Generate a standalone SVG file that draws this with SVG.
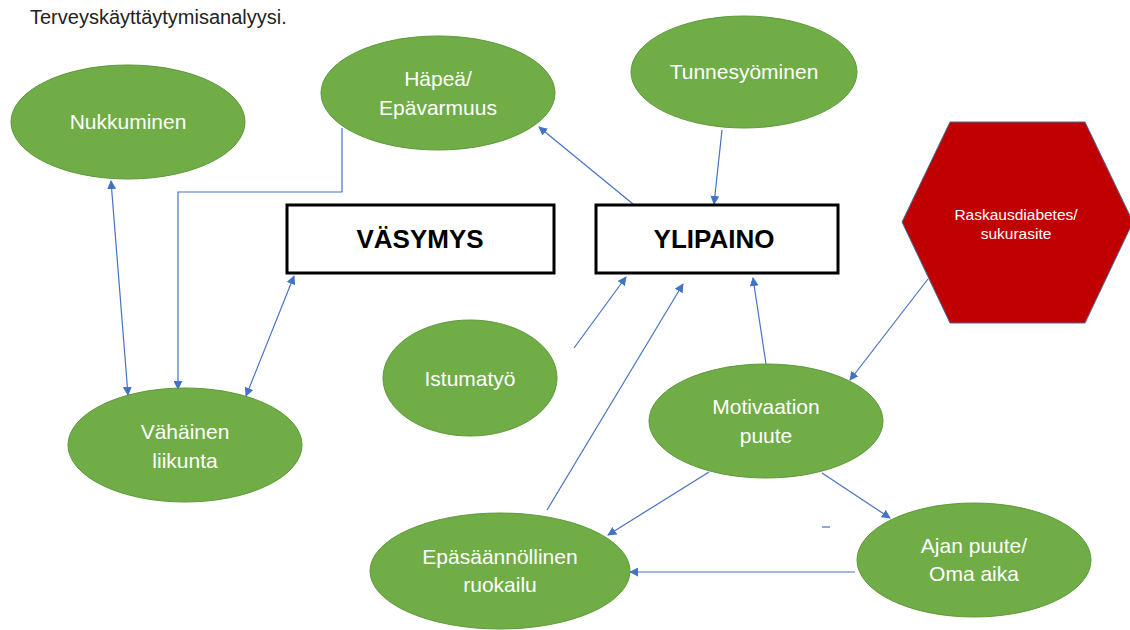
<svg xmlns="http://www.w3.org/2000/svg" width="1130" height="630" viewBox="0 0 1130 630">
<defs>
<marker id="ah" viewBox="0 0 10 10" refX="9" refY="5" markerWidth="9" markerHeight="9" markerUnits="userSpaceOnUse" orient="auto-start-reverse">
<path d="M0,0 L10,5 L0,10 z" fill="#4472C4"/>
</marker>
<style>
.el{fill:#70AD47;stroke:#5E9A3A;stroke-width:1}
.box{fill:#fff;stroke:#000;stroke-width:3}
.t{font-family:"Liberation Sans",Arial,sans-serif;font-size:21px;fill:#fff;text-anchor:middle}
.b{font-family:"Liberation Sans",Arial,sans-serif;font-size:26px;font-weight:bold;fill:#000;text-anchor:middle}
.c{fill:none;stroke:#4472C4;stroke-width:1.2}
.h{font-family:"Liberation Sans",Arial,sans-serif;font-size:15.5px;fill:#fff;text-anchor:middle}
</style>
</defs>
<rect width="1130" height="630" fill="#fff"/>
<text x="30" y="24" font-family="'Liberation Sans',Arial,sans-serif" font-size="20" fill="#222">Terveyskäyttäytymisanalyysi.</text>

<g id="connectors">
<line class="c" x1="111" y1="181" x2="128" y2="395" marker-start="url(#ah)" marker-end="url(#ah)"/>
<polyline class="c" points="342,128 342,192 178,192 178,389" marker-end="url(#ah)"/>
<line class="c" x1="246" y1="396" x2="294" y2="276" marker-start="url(#ah)" marker-end="url(#ah)"/>
<line class="c" x1="633" y1="204" x2="539" y2="127" marker-end="url(#ah)"/>
<line class="c" x1="722" y1="130" x2="714" y2="204" marker-end="url(#ah)"/>
<line class="c" x1="574" y1="348" x2="626" y2="277" marker-end="url(#ah)"/>
<line class="c" x1="547" y1="510" x2="683" y2="284" marker-end="url(#ah)"/>
<line class="c" x1="766" y1="364" x2="753" y2="278" marker-end="url(#ah)"/>
<line class="c" x1="928" y1="279" x2="850" y2="380" marker-end="url(#ah)"/>
<line class="c" x1="709" y1="472" x2="608" y2="535" marker-end="url(#ah)"/>
<line class="c" x1="822" y1="473" x2="890" y2="518" marker-end="url(#ah)"/>
<line class="c" x1="855" y1="572" x2="630" y2="572" marker-end="url(#ah)"/>
<line class="c" x1="822" y1="527" x2="830" y2="527"/>
</g>

<g id="nukkuminen">
<ellipse class="el" cx="128" cy="122" rx="117" ry="57"/>
<text class="t" x="128" y="129">Nukkuminen</text>
</g>
<g id="hapea">
<ellipse class="el" cx="438" cy="93" rx="117" ry="57"/>
<text class="t" x="438" y="86">Häpeä/</text>
<text class="t" x="438" y="115">Epävarmuus</text>
</g>
<g id="tunnesyominen">
<ellipse class="el" cx="744" cy="72" rx="113" ry="56"/>
<text class="t" x="744" y="79">Tunnesyöminen</text>
</g>
<g id="vasymys">
<rect class="box" x="287" y="205" width="267" height="68"/>
<text class="b" x="420" y="248">VÄSYMYS</text>
</g>
<g id="ylipaino">
<rect class="box" x="596" y="205" width="242" height="68"/>
<text class="b" x="714" y="248">YLIPAINO</text>
</g>
<g id="raskausdiabetes">
<polygon points="950,122 1085,122 1133,222 1085,323 950,323 902,222" fill="#C00000" stroke="#41719C" stroke-width="1"/>
<text class="h" x="1016" y="220">Raskausdiabetes/</text>
<text class="h" x="1016" y="239">sukurasite</text>
</g>
<g id="vahainen-liikunta">
<ellipse class="el" cx="185" cy="445" rx="117" ry="57"/>
<text class="t" x="185" y="439">Vähäinen</text>
<text class="t" x="185" y="468">liikunta</text>
</g>
<g id="istumatyo">
<ellipse class="el" cx="470" cy="378" rx="87" ry="58"/>
<text class="t" x="470" y="386">Istumatyö</text>
</g>
<g id="motivaation-puute">
<ellipse class="el" cx="766" cy="421" rx="117" ry="57"/>
<text class="t" x="766" y="414">Motivaation</text>
<text class="t" x="766" y="443">puute</text>
</g>
<g id="epasaannollinen-ruokailu">
<ellipse class="el" cx="500" cy="571" rx="130" ry="58"/>
<text class="t" x="500" y="564">Epäsäännöllinen</text>
<text class="t" x="500" y="592">ruokailu</text>
</g>
<g id="ajan-puute">
<ellipse class="el" cx="974" cy="560" rx="117" ry="57"/>
<text class="t" x="974" y="553">Ajan puute/</text>
<text class="t" x="974" y="581">Oma aika</text>
</g>
</svg>
